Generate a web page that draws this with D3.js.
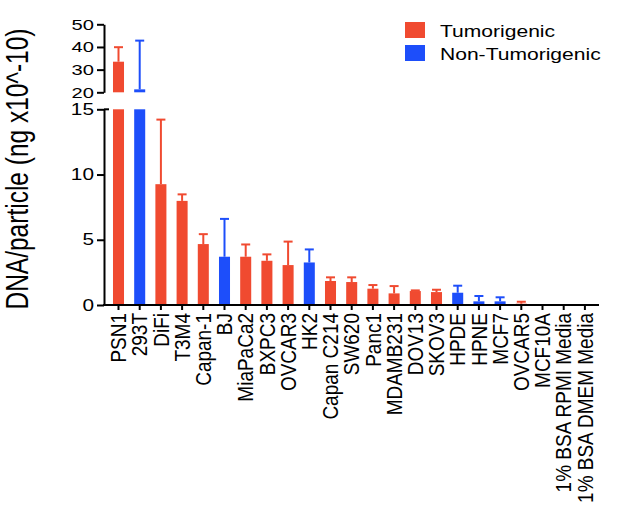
<!DOCTYPE html>
<html>
<head>
<meta charset="utf-8">
<script src="https://cdn.jsdelivr.net/npm/d3@7"></script>
<style>
  body { margin: 0; background: #fff; }
  svg { display: block; font-family: 'Liberation Sans', Arial, sans-serif; }
</style>
</head>
<body>
<div id="chart"></div>
<script>
// data
const categories = ['PSN1', '293T', 'DiFi', 'T3M4', 'Capan-1', 'BJ', 'MiaPaCa2', 'BXPC3',
  'OVCAR3', 'HK2', 'Capan C214', 'SW620', 'Panc1', 'MDAMB231', 'DOV13', 'SKOV3', 'HPDE',
  'HPNE', 'MCF7', 'OVCAR5', 'MCF10A', '1% BSA RPMI Media', '1% BSA DMEM Media'];
const values = [33.5, 21.3, 9.26, 7.98, 4.67, 3.7, 3.7, 3.39, 3.06, 3.26, 1.84, 1.76, 1.25,
  0.89, 1.07, 0.99, 0.94, 0.28, 0.28, 0.1, 0, 0, 0];
const errors = [6.4, 21.5, 4.95, 0.5, 0.76, 2.9, 0.94, 0.49, 1.8, 1.0, 0.28, 0.36, 0.28,
  0.56, 0.05, 0.18, 0.54, 0.41, 0.31, 0.15, 0, 0, 0];
const groups = ['T', 'N', 'T', 'T', 'T', 'N', 'T', 'T', 'T', 'N', 'T', 'T', 'T', 'T', 'T',
  'T', 'N', 'N', 'N', 'T', 'T', 'T', 'T'];
const legendLabels = ['Tumorigenic', 'Non-Tumorigenic'];
const lowerTicks = [0, 5, 10, 15];
const upperTicks = [20, 30, 40, 50];
const yTitle = 'DNA/particle (ng x10^-10)';

const WIDTH = 620;
const HEIGHT = 508;
const SX = 1.3; // the reference text is drawn wide
const COLORS = { T: '#F04A30', N: '#1D4EFA' };
const AXIS_X = 104;
const BAR_ERR_CAP = 9;

const svg = d3
  .select('#chart')
  .append('svg')
  .attr('width', WIDTH)
  .attr('height', HEIGHT);

// scales: one band scale, a broken y axis in two parts
const x = d3.scaleBand().domain(categories).range([107.9, 595.5])
  .paddingInner(0.48).paddingOuter(0.24);
const yLow = d3.scaleLinear().domain([0, 15]).range([305, 109.3]);
const yHigh = d3.scaleLinear().domain([20, 50]).range([92.3, 24.3]);

function widen(sel, sx) {
  sel.attr('transform', function () {
    const tx = +this.getAttribute('x') || 0;
    return 'translate(' + tx + ',0) scale(' + sx + ',1) translate(' + -tx + ',0)';
  });
}

const rows = categories.map((c, i) => ({ c: c, v: values[i], e: errors[i], g: groups[i] }));

// lower bars
svg.append('g')
  .selectAll('rect')
  .data(rows)
  .join('rect')
  .attr('x', (d) => x(d.c))
  .attr('width', x.bandwidth())
  .attr('y', (d) => yLow(Math.min(d.v, 15)))
  .attr('height', (d) => yLow(0) - yLow(Math.min(d.v, 15)))
  .attr('fill', (d) => COLORS[d.g]);

// upper bars (values past the break)
svg.append('g')
  .selectAll('rect')
  .data(rows.filter((d) => d.v > 20))
  .join('rect')
  .attr('x', (d) => x(d.c))
  .attr('width', x.bandwidth())
  .attr('y', (d) => yHigh(d.v))
  .attr('height', (d) => yHigh(20) - yHigh(d.v))
  .attr('fill', (d) => COLORS[d.g]);

// error bars
const errRows = rows.filter((d) => d.e > 0);
const gErr = svg.append('g').attr('stroke-width', 2).attr('fill', 'none');
errRows.forEach((d) => {
  const cx = x(d.c) + x.bandwidth() / 2;
  const top = d.v + d.e;
  const ys = top > 20 ? yHigh : yLow;
  const y0 = d.v > 20 ? yHigh(d.v) : yLow(d.v);
  const y1 = ys(top);
  const col = COLORS[d.g];
  gErr.append('line').attr('x1', cx).attr('x2', cx).attr('y1', y0).attr('y2', y1).attr('stroke', col);
  gErr.append('line')
    .attr('x1', cx - BAR_ERR_CAP / 2).attr('x2', cx + BAR_ERR_CAP / 2)
    .attr('y1', y1).attr('y2', y1).attr('stroke', col);
});

// x axis
const gx = svg.append('g')
  .attr('transform', 'translate(0,' + yLow(0) + ')')
  .call(d3.axisBottom(x).tickSize(5).tickSizeOuter(0));
gx.select('.domain').remove();
gx.selectAll('.tick line').attr('stroke', '#000').attr('stroke-width', 2);
gx.selectAll('.tick text')
  .attr('x', 0)
  .attr('y', 0)
  .attr('dy', '0.36em')
  .attr('fill', '#000')
  .style('font-size', '19px')
  .style('font-family', "'Liberation Sans', Arial, sans-serif")
  .attr('text-anchor', 'end')
  .attr('transform', 'translate(0,8) scale(1.12,1) rotate(-90)');
gx.append('line')
  .attr('x1', AXIS_X - 1).attr('x2', 599)
  .attr('y1', 0).attr('y2', 0)
  .attr('stroke', '#000').attr('stroke-width', 2);

// y axis, lower part
const gyLow = svg.append('g')
  .attr('transform', 'translate(' + AXIS_X + ',0)')
  .call(d3.axisLeft(yLow).tickValues(lowerTicks).tickSize(7).tickSizeOuter(0));
gyLow.select('.domain').attr('stroke-width', 2);
gyLow.selectAll('.tick line').attr('stroke-width', 2);
gyLow.selectAll('.tick text')
  .attr('fill', '#000')
  .style('font-size', '16px')
  .style('font-family', "'Liberation Sans', Arial, sans-serif")
  .call(widen, SX);
// break marker on the top tick of the lower part
gyLow.append('line')
  .attr('x1', 0).attr('x2', 5)
  .attr('y1', yLow(15)).attr('y2', yLow(15))
  .attr('stroke', '#000').attr('stroke-width', 2);

// y axis, upper part
const gyHigh = svg.append('g')
  .attr('transform', 'translate(' + AXIS_X + ',0)')
  .call(d3.axisLeft(yHigh).tickValues(upperTicks).tickSize(7).tickSizeOuter(0));
gyHigh.select('.domain').attr('stroke-width', 2);
gyHigh.selectAll('.tick line').attr('stroke-width', 2);
gyHigh.selectAll('.tick text')
  .attr('fill', '#000')
  .style('font-size', '15.5px')
  .style('font-family', "'Liberation Sans', Arial, sans-serif")
  .call(widen, SX);

// y title
svg.append('text')
  .attr('transform', 'translate(28,169) scale(1.3,1) rotate(-90)')
  .attr('text-anchor', 'middle')
  .style('font-size', '24.5px')
  .attr('fill', '#000')
  .text(yTitle);

// legend
const legend = svg.append('g').attr('transform', 'translate(405,22)');
legendLabels.forEach((label, i) => {
  const key = i === 0 ? 'T' : 'N';
  legend.append('rect')
    .attr('x', 0).attr('y', i * 23)
    .attr('width', 20).attr('height', 16)
    .attr('fill', COLORS[key]);
  legend.append('text')
    .attr('x', 35).attr('y', i * 23 + 15)
    .style('font-size', '17px')
    .attr('fill', '#000')
    .text(label)
    .call(widen, 1.24);
});
</script>
</body>
</html>
